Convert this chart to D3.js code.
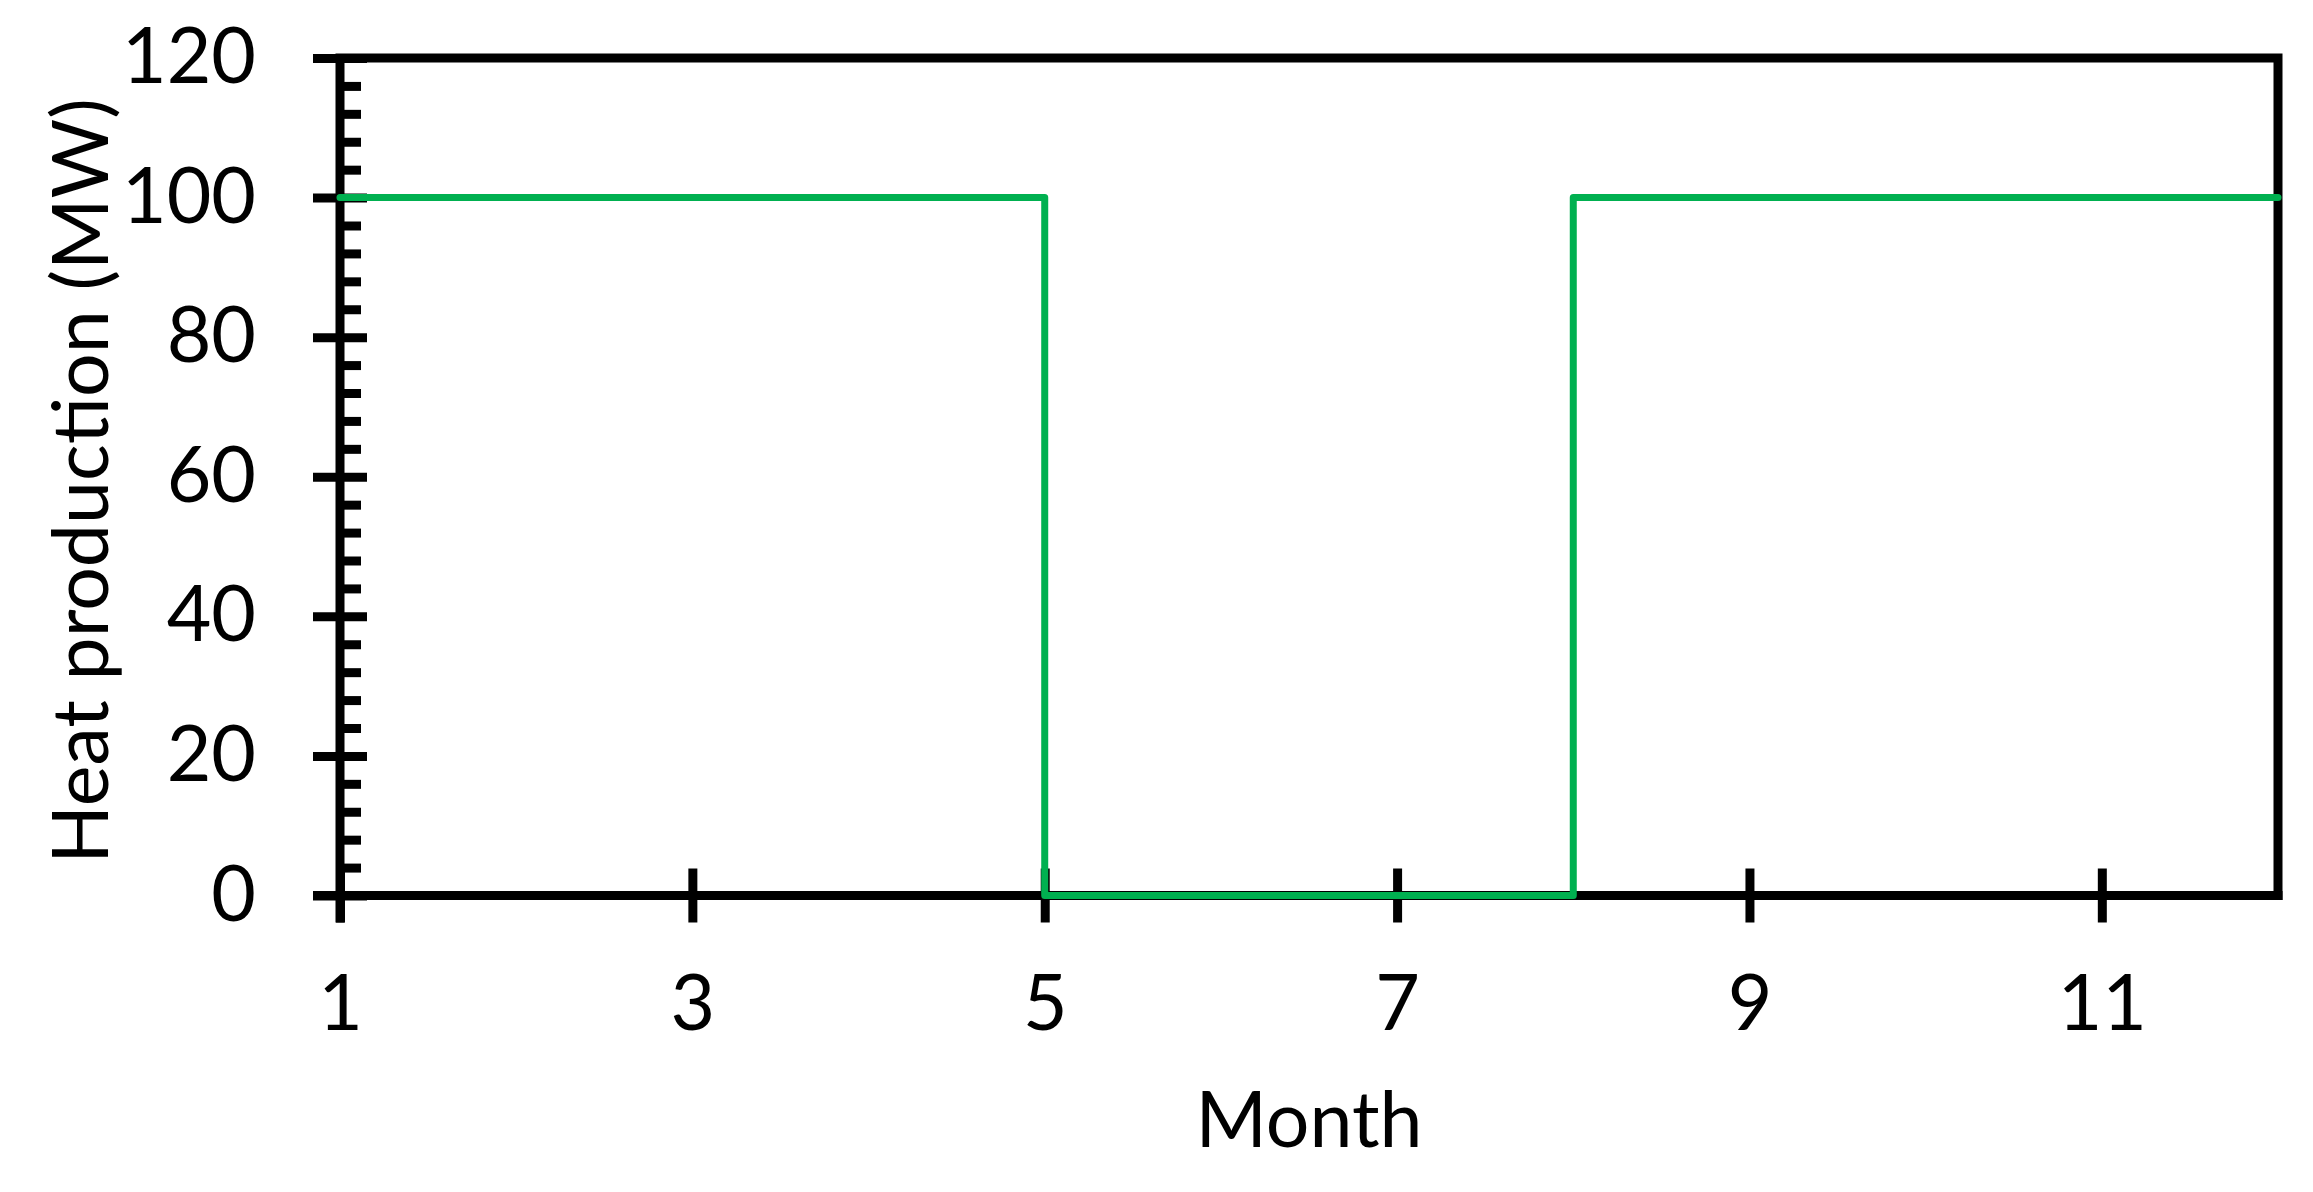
<!DOCTYPE html>
<html>
<head>
<meta charset="utf-8">
<script src="https://cdn.jsdelivr.net/npm/d3@7"></script>
<style>
  html, body { margin: 0; padding: 0; background: #fff; }
  svg { display: block; }
  text { font-family: Lato, "Open Sans", sans-serif; fill: #000; }
</style>
</head>
<body>
<svg id="chart" width="2313" height="1192"></svg>
<script>
// ---- data ----
const months = [1, 2, 3, 4, 5, 6, 7, 8, 9, 10, 11, 12];
const heatMW = [100, 100, 100, 100, 0, 0, 0, 100, 100, 100, 100, 100];
const xTickValues = [1, 3, 5, 7, 9, 11];
const yTickValues = [0, 20, 40, 60, 80, 100, 120];
const yMinorValues = [4, 8, 12, 16, 24, 28, 32, 36, 44, 48, 52, 56, 64, 68, 72, 76, 84, 88, 92, 96, 104, 108, 112, 116];
const xTitle = "Month";
const yTitle = "Heat production (MW)";

// ---- layout ----
const W = 2313, H = 1192;
const L = 340, R = 2278, T = 58, B = 895.5;
const axisW = 9, lineW = 7, major = 27, minor = 21;
const fontSize = 77;

const svg = d3.select("#chart");
const x = d3.scaleLinear().domain([1, 12]).range([L, R]);
const y = d3.scaleLinear().domain([0, 120]).range([B, T]);

// frame (top and right)
svg.append("path")
  .attr("d", `M${L},${T}H${R}V${B}`)
  .attr("fill", "none").attr("stroke", "#000").attr("stroke-width", axisW)
  .attr("stroke-linecap", "square").attr("stroke-linejoin", "miter");

// y minor ticks (inside)
const yMinor = svg.append("g").attr("transform", `translate(${L},0)`)
  .call(d3.axisRight(y).tickValues(yMinorValues).tickSize(minor).tickFormat(""));
yMinor.select(".domain").remove();
yMinor.selectAll(".tick line").attr("stroke", "#000").attr("stroke-width", axisW);

// y major axis
const yAx = svg.append("g").attr("transform", `translate(${L},0)`)
  .call(d3.axisLeft(y).tickValues(yTickValues).tickSize(major).tickFormat(d3.format("d")));
yAx.select(".domain").attr("stroke", "#000").attr("stroke-width", axisW)
  .attr("d", `M0,${T}V${B + major}`);
yAx.selectAll(".tick line").attr("x1", -major).attr("x2", major)
  .attr("stroke", "#000").attr("stroke-width", axisW);
yAx.selectAll(".tick text")
  .attr("x", -84).attr("dy", null).attr("y", 24.5)
  .attr("text-anchor", "end")
  .style("font-family", "Lato, 'Open Sans', sans-serif")
  .style("font-size", fontSize + "px").attr("fill", "#000");

// x axis
const xAx = svg.append("g").attr("transform", `translate(0,${B})`)
  .call(d3.axisBottom(x).tickValues(xTickValues).tickSize(major).tickFormat(d3.format("d")));
xAx.select(".domain").attr("stroke", "#000").attr("stroke-width", axisW)
  .attr("d", `M${L - major},0H${R + axisW / 2}`);
xAx.selectAll(".tick line").attr("y1", -major).attr("y2", major)
  .attr("stroke", "#000").attr("stroke-width", axisW);
xAx.selectAll(".tick text")
  .attr("y", 134.5).attr("dy", null)
  .attr("text-anchor", "middle")
  .style("font-family", "Lato, 'Open Sans', sans-serif")
  .style("font-size", fontSize + "px").attr("fill", "#000");

// series (step line)
const pts = months.map((m, i) => [m, heatMW[i]]);
const line = d3.line().x(d => x(d[0])).y(d => y(d[1])).curve(d3.curveStepAfter);
svg.append("path").datum(pts)
  .attr("d", line)
  .attr("fill", "none").attr("stroke", "#00B050").attr("stroke-width", lineW)
  .attr("stroke-linejoin", "round").attr("stroke-linecap", "round");

// titles
svg.append("text")
  .attr("x", (L + R) / 2).attr("y", 1147)
  .attr("text-anchor", "middle")
  .style("font-size", fontSize + "px")
  .text(xTitle);

svg.append("text")
  .attr("transform", `translate(108,481) rotate(-90)`)
  .attr("text-anchor", "middle")
  .style("font-size", "77px")
  .text(yTitle);
</script>
</body>
</html>
